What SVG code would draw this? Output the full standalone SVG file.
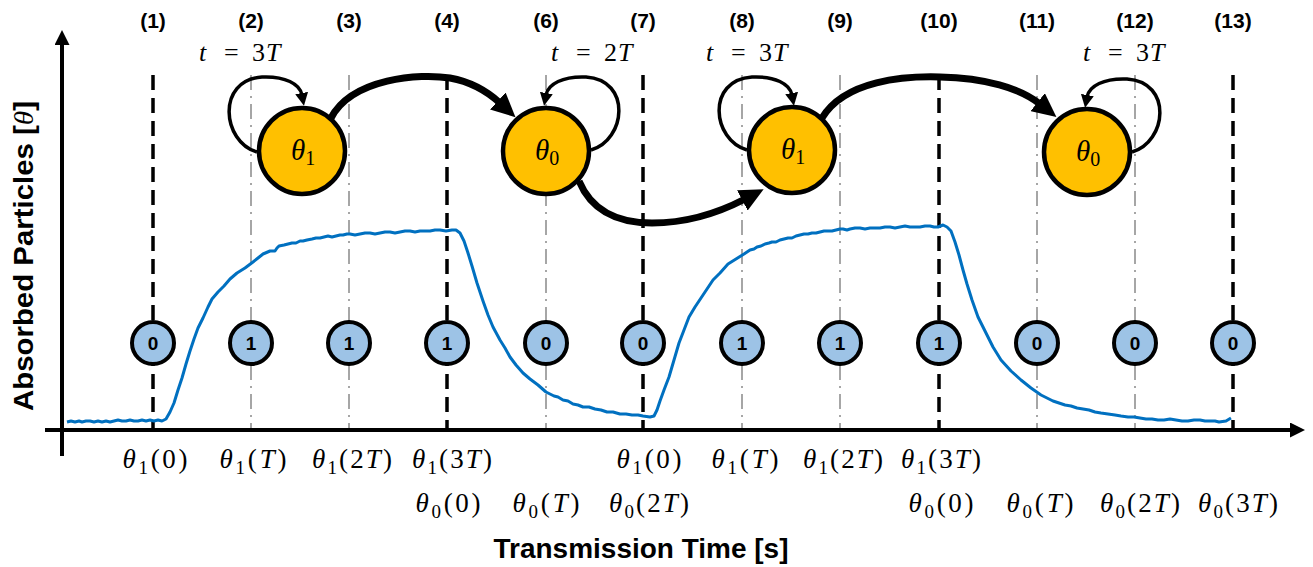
<svg xmlns="http://www.w3.org/2000/svg" width="1313" height="567" viewBox="0 0 1313 567">
<style>
.bg{fill:#ffffff}
.axis{stroke:#000;stroke-width:4;fill:none}
.vdash{stroke:#000;stroke-width:3.5;stroke-dasharray:15 8;fill:none}
.vgray{stroke:#A6A6A6;stroke-width:2;stroke-dasharray:15 6 2 6;fill:none}
.curve{stroke:#0070C0;stroke-width:3;fill:none;stroke-linejoin:round}
.bit{fill:#9DC3E6;stroke:#000;stroke-width:4}
.bittxt{font-family:"Liberation Sans",Arial,sans-serif;font-weight:bold;font-size:19px;fill:#000;text-anchor:middle}
.state{fill:#FFC000;stroke:#000;stroke-width:4.5}
.math{font-family:"Liberation Serif","Times New Roman",serif;fill:#000}
.it{font-style:italic}
.loop{stroke:#000;stroke-width:3.5;fill:none}
.trans{stroke:#000;stroke-width:7;fill:none}
.num{font-family:"Liberation Sans",Arial,sans-serif;font-weight:bold;font-size:21px;fill:#000;text-anchor:middle}
.title{font-family:"Liberation Sans",Arial,sans-serif;font-weight:bold;font-size:27px;fill:#000;text-anchor:middle}
.lbl{font-size:27px;text-anchor:middle}
</style>
<defs>
<marker id="axArrow" markerUnits="userSpaceOnUse" markerWidth="16" markerHeight="15" refX="2" refY="7.5" orient="auto">
<path d="M0,0 L15,7.5 L0,15 z" fill="#000"/>
</marker>
<marker id="loopArrow" markerUnits="userSpaceOnUse" markerWidth="14" markerHeight="13" refX="2" refY="6.5" orient="auto">
<path d="M0,0 L13,6.5 L0,13 z" fill="#000"/>
</marker>
<marker id="bigArrow" markerUnits="userSpaceOnUse" markerWidth="25" markerHeight="23" refX="3" refY="11.5" orient="auto">
<path d="M0,0 L24,11.5 L0,23 z" fill="#000"/>
</marker>
</defs>
<rect class="bg" x="0" y="0" width="1313" height="567"/>

<g id="slot-lines">
<line class="vdash" x1="153" y1="75" x2="153" y2="430"/>
<line class="vgray" x1="251" y1="75" x2="251" y2="430"/>
<line class="vgray" x1="349" y1="75" x2="349" y2="430"/>
<line class="vdash" x1="447" y1="75" x2="447" y2="430"/>
<line class="vgray" x1="546" y1="75" x2="546" y2="430"/>
<line class="vdash" x1="643" y1="75" x2="643" y2="430"/>
<line class="vgray" x1="742" y1="75" x2="742" y2="430"/>
<line class="vgray" x1="840" y1="75" x2="840" y2="430"/>
<line class="vdash" x1="939" y1="75" x2="939" y2="430"/>
<line class="vgray" x1="1037" y1="75" x2="1037" y2="430"/>
<line class="vgray" x1="1135" y1="75" x2="1135" y2="430"/>
<line class="vdash" x1="1233" y1="75" x2="1233" y2="430"/>
</g>

<g id="axes">
<line class="axis" x1="62" y1="456" x2="62" y2="43" marker-end="url(#axArrow)"/>
<line class="axis" x1="45" y1="430" x2="1292" y2="430" marker-end="url(#axArrow)"/>
</g>

<g id="signal">
<polyline class="curve" points="67,422 71,421 75,422 79,421 82,422 86,421 90,421 94,422 98,421 102,422 106,421 110,422 114,421 118,420 122,421 126,421 130,420 134,421 138,421 142,420 146,421 150,420 154,421 158,420 162,421 166,419 170,412 174,403 178,390 182,378 186,364 190,351 194,339 198,328 203,318 208,307 212,299 218,292 224,286 230,279 237,273 245,268 253,262 258,258 263,254 270,251 275,251 277,248 279,246 284,245 288,244 292,243 296,243 300,241 303,241 307,240 312,239 316,238 320,238 324,237 328,236 332,237 336,236 340,235 343,235 347,234 350,234 355,235 360,234 365,233 370,233 375,234 380,233 385,232 390,232 395,233 400,232 405,231 410,231 415,232 420,231 425,231 430,231 435,230 440,230 446,231 452,230 456,230 460,233 464,241 468,253 472,266 477,283 483,301 488,315 493,327 500,340 505,348 510,357 516,365 523,373 530,379 538,385 546,392 554,396 558,397 563,400 568,401 573,404 578,405 583,407 589,407 595,409 601,410 607,412 613,412 620,414 626,414 632,415 638,415 643,416 650,417 654,416 657,410 660,401 664,390 669,377 674,360 679,343 684,330 689,317 695,307 701,298 707,289 713,280 720,273 728,264 736,259 744,254 750,250 754,249 757,247 761,246 765,244 769,243 772,242 776,242 780,240 784,239 788,238 792,238 796,236 800,235 804,234 808,234 812,233 816,233 820,232 824,231 828,231 832,231 836,230 840,229 843,229 847,230 850,229 855,228 860,228 865,229 870,228 875,228 880,228 885,227 890,227 895,228 900,227 905,226 910,227 915,227 920,227 925,226 930,226 934,227 938,227 943,225 947,227 951,231 955,242 959,255 963,270 967,284 972,300 978,317 986,333 993,347 1001,360 1011,371 1021,380 1031,388 1041,395 1047,398 1053,401 1059,403 1065,405 1071,406 1077,408 1083,409 1089,410 1095,412 1101,413 1108,414 1115,415 1121,416 1128,417 1134,417 1140,418 1146,419 1152,419 1158,420 1164,420 1170,419 1176,420 1182,421 1188,421 1194,420 1200,420 1205,421 1210,421 1215,421 1219,422 1226,421 1231,418"/>
</g>

<g id="bit-1"><circle class="bit" cx="153" cy="343" r="21"/><text class="bittxt" x="153" y="350">0</text></g>
<g id="bit-2"><circle class="bit" cx="251" cy="343" r="21"/><text class="bittxt" x="251" y="350">1</text></g>
<g id="bit-3"><circle class="bit" cx="349" cy="343" r="21"/><text class="bittxt" x="349" y="350">1</text></g>
<g id="bit-4"><circle class="bit" cx="447" cy="343" r="21"/><text class="bittxt" x="447" y="350">1</text></g>
<g id="bit-6"><circle class="bit" cx="546" cy="343" r="21"/><text class="bittxt" x="546" y="350">0</text></g>
<g id="bit-7"><circle class="bit" cx="643" cy="343" r="21"/><text class="bittxt" x="643" y="350">0</text></g>
<g id="bit-8"><circle class="bit" cx="742" cy="343" r="21"/><text class="bittxt" x="742" y="350">1</text></g>
<g id="bit-9"><circle class="bit" cx="840" cy="343" r="21"/><text class="bittxt" x="840" y="350">1</text></g>
<g id="bit-10"><circle class="bit" cx="939" cy="343" r="21"/><text class="bittxt" x="939" y="350">1</text></g>
<g id="bit-11"><circle class="bit" cx="1037" cy="343" r="21"/><text class="bittxt" x="1037" y="350">0</text></g>
<g id="bit-12"><circle class="bit" cx="1135" cy="343" r="21"/><text class="bittxt" x="1135" y="350">0</text></g>
<g id="bit-13"><circle class="bit" cx="1233" cy="343" r="21"/><text class="bittxt" x="1233" y="350">0</text></g>

<g id="state-a"><circle class="state" cx="302" cy="151" r="43"/><text class="math" x="303" y="160" text-anchor="middle" font-size="29"><tspan class="it">θ</tspan><tspan font-size="20" dy="5">1</tspan></text></g>
<g id="state-b"><circle class="state" cx="546" cy="151" r="43"/><text class="math" x="547" y="160" text-anchor="middle" font-size="29"><tspan class="it">θ</tspan><tspan font-size="20" dy="5">0</tspan></text></g>
<g id="state-c"><circle class="state" cx="792" cy="150" r="43"/><text class="math" x="793" y="159" text-anchor="middle" font-size="29"><tspan class="it">θ</tspan><tspan font-size="20" dy="5">1</tspan></text></g>
<g id="state-d"><circle class="state" cx="1087" cy="152" r="43"/><text class="math" x="1088" y="161" text-anchor="middle" font-size="29"><tspan class="it">θ</tspan><tspan font-size="20" dy="5">0</tspan></text></g>

<g id="connectors">
<path class="loop" d="M257,152 C222,142 216,80 262,77 C285,76 300,84 302,95" marker-end="url(#loopArrow)"/>
<path class="loop" d="M591,150 C626,140 632,80 586,77 C563,76 548,84 546,95" marker-end="url(#loopArrow)"/>
<path class="loop" d="M747,150 C712,140 706,80 752,77 C775,76 790,84 792,95" marker-end="url(#loopArrow)"/>
<path class="loop" d="M1132,152 C1167,142 1173,82 1127,79 C1104,78 1089,86 1087,97" marker-end="url(#loopArrow)"/>
<path class="trans" d="M331,118 C352,78 420,73 450,78 C472,82 488,92 500,103" marker-end="url(#bigArrow)"/>
<path class="trans" d="M579,181 C592,212 620,223 652,223 C690,223 720,212 745,199" marker-end="url(#bigArrow)"/>
<path class="trans" d="M822,118 C845,80 905,76 940,77 C985,78 1020,88 1040,104" marker-end="url(#bigArrow)"/>
</g>

<g id="slot-numbers">
<text class="num" x="153" y="28">(1)</text>
<text class="num" x="251" y="28">(2)</text>
<text class="num" x="349" y="28">(3)</text>
<text class="num" x="447" y="28">(4)</text>
<text class="num" x="546" y="28">(6)</text>
<text class="num" x="643" y="28">(7)</text>
<text class="num" x="742" y="28">(8)</text>
<text class="num" x="840" y="28">(9)</text>
<text class="num" x="939" y="28">(10)</text>
<text class="num" x="1037" y="28">(11)</text>
<text class="num" x="1135" y="28">(12)</text>
<text class="num" x="1233" y="28">(13)</text>
</g>

<g id="durations" class="math" font-size="26">
<text y="61"><tspan class="it" x="199">t</tspan><tspan x="224">=</tspan><tspan x="252">3</tspan><tspan class="it" x="266">T</tspan></text>
<text y="61"><tspan class="it" x="551">t</tspan><tspan x="576">=</tspan><tspan x="604">2</tspan><tspan class="it" x="618">T</tspan></text>
<text y="61"><tspan class="it" x="706">t</tspan><tspan x="731">=</tspan><tspan x="759">3</tspan><tspan class="it" x="773">T</tspan></text>
<text y="61"><tspan class="it" x="1083">t</tspan><tspan x="1108">=</tspan><tspan x="1136">3</tspan><tspan class="it" x="1150">T</tspan></text>
</g>

<g id="time-labels" class="math">
<text class="lbl" x="155" y="468" textLength="65" lengthAdjust="spacing"><tspan class="it">θ</tspan><tspan font-size="19" dy="6">1</tspan><tspan dy="-6">(0)</tspan></text>
<text class="lbl" x="253" y="468" textLength="67" lengthAdjust="spacing"><tspan class="it">θ</tspan><tspan font-size="19" dy="6">1</tspan><tspan dy="-6">(</tspan><tspan class="it">T</tspan>)</text>
<text class="lbl" x="352" y="468" textLength="80" lengthAdjust="spacing"><tspan class="it">θ</tspan><tspan font-size="19" dy="6">1</tspan><tspan dy="-6">(2</tspan><tspan class="it">T</tspan>)</text>
<text class="lbl" x="452" y="468" textLength="80" lengthAdjust="spacing"><tspan class="it">θ</tspan><tspan font-size="19" dy="6">1</tspan><tspan dy="-6">(3</tspan><tspan class="it">T</tspan>)</text>
<text class="lbl" x="649" y="468" textLength="65" lengthAdjust="spacing"><tspan class="it">θ</tspan><tspan font-size="19" dy="6">1</tspan><tspan dy="-6">(0)</tspan></text>
<text class="lbl" x="745" y="468" textLength="67" lengthAdjust="spacing"><tspan class="it">θ</tspan><tspan font-size="19" dy="6">1</tspan><tspan dy="-6">(</tspan><tspan class="it">T</tspan>)</text>
<text class="lbl" x="843" y="468" textLength="80" lengthAdjust="spacing"><tspan class="it">θ</tspan><tspan font-size="19" dy="6">1</tspan><tspan dy="-6">(2</tspan><tspan class="it">T</tspan>)</text>
<text class="lbl" x="941" y="468" textLength="80" lengthAdjust="spacing"><tspan class="it">θ</tspan><tspan font-size="19" dy="6">1</tspan><tspan dy="-6">(3</tspan><tspan class="it">T</tspan>)</text>
<text class="lbl" x="448" y="512" textLength="65" lengthAdjust="spacing"><tspan class="it">θ</tspan><tspan font-size="19" dy="6">0</tspan><tspan dy="-6">(0)</tspan></text>
<text class="lbl" x="546" y="512" textLength="67" lengthAdjust="spacing"><tspan class="it">θ</tspan><tspan font-size="19" dy="6">0</tspan><tspan dy="-6">(</tspan><tspan class="it">T</tspan>)</text>
<text class="lbl" x="649" y="512" textLength="80" lengthAdjust="spacing"><tspan class="it">θ</tspan><tspan font-size="19" dy="6">0</tspan><tspan dy="-6">(2</tspan><tspan class="it">T</tspan>)</text>
<text class="lbl" x="941" y="512" textLength="65" lengthAdjust="spacing"><tspan class="it">θ</tspan><tspan font-size="19" dy="6">0</tspan><tspan dy="-6">(0)</tspan></text>
<text class="lbl" x="1040" y="512" textLength="67" lengthAdjust="spacing"><tspan class="it">θ</tspan><tspan font-size="19" dy="6">0</tspan><tspan dy="-6">(</tspan><tspan class="it">T</tspan>)</text>
<text class="lbl" x="1140" y="512" textLength="80" lengthAdjust="spacing"><tspan class="it">θ</tspan><tspan font-size="19" dy="6">0</tspan><tspan dy="-6">(2</tspan><tspan class="it">T</tspan>)</text>
<text class="lbl" x="1238" y="512" textLength="80" lengthAdjust="spacing"><tspan class="it">θ</tspan><tspan font-size="19" dy="6">0</tspan><tspan dy="-6">(3</tspan><tspan class="it">T</tspan>)</text>
</g>

<g id="axis-titles">
<text class="title" x="641" y="558" textLength="295" lengthAdjust="spacingAndGlyphs">Transmission Time [s]</text>
<text class="title" transform="translate(33,256) rotate(-90)" textLength="310" lengthAdjust="spacingAndGlyphs">Absorbed Particles [<tspan font-family="Liberation Serif, serif" font-style="italic" font-weight="normal">θ</tspan>]</text>
</g>
</svg>
